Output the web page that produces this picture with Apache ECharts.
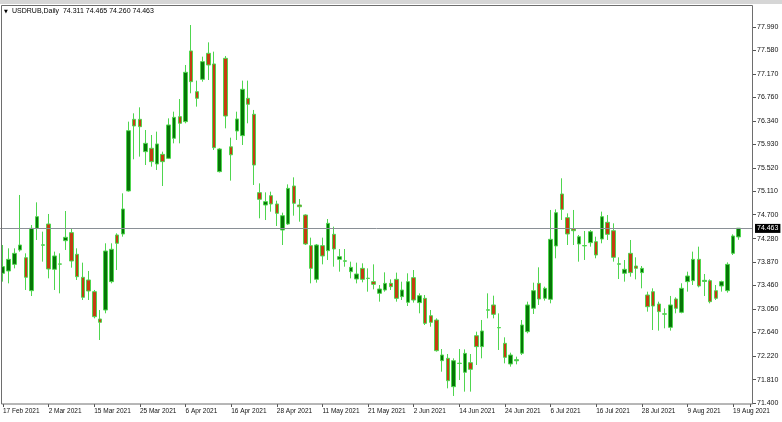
<!DOCTYPE html>
<html><head><meta charset="utf-8">
<script src="https://cdn.jsdelivr.net/npm/echarts@6/dist/echarts.min.js"></script>
<style>html,body{margin:0;padding:0;background:#fff}#c{width:782px;height:422px}</style>
</head><body><div id="c"></div>
<script>
const symbol = 'USDRUB,Daily';
const dates = [
'17 Feb 2021','18 Feb 2021','19 Feb 2021','22 Feb 2021','24 Feb 2021','25 Feb 2021','26 Feb 2021',
'1 Mar 2021','2 Mar 2021','3 Mar 2021','4 Mar 2021','5 Mar 2021','9 Mar 2021','10 Mar 2021','11 Mar 2021','12 Mar 2021','15 Mar 2021','16 Mar 2021','17 Mar 2021','18 Mar 2021','19 Mar 2021','22 Mar 2021','23 Mar 2021','24 Mar 2021','25 Mar 2021','26 Mar 2021','29 Mar 2021','30 Mar 2021','31 Mar 2021',
'1 Apr 2021','2 Apr 2021','5 Apr 2021','6 Apr 2021','7 Apr 2021','8 Apr 2021','9 Apr 2021','12 Apr 2021','13 Apr 2021','14 Apr 2021','15 Apr 2021','16 Apr 2021','19 Apr 2021','20 Apr 2021','21 Apr 2021','22 Apr 2021','23 Apr 2021','26 Apr 2021','27 Apr 2021','28 Apr 2021','29 Apr 2021','30 Apr 2021',
'4 May 2021','5 May 2021','6 May 2021','7 May 2021','10 May 2021','11 May 2021','12 May 2021','13 May 2021','14 May 2021','17 May 2021','18 May 2021','19 May 2021','20 May 2021','21 May 2021','24 May 2021','25 May 2021','26 May 2021','27 May 2021','28 May 2021','31 May 2021',
'1 Jun 2021','2 Jun 2021','3 Jun 2021','4 Jun 2021','7 Jun 2021','8 Jun 2021','9 Jun 2021','10 Jun 2021','11 Jun 2021','14 Jun 2021','15 Jun 2021','16 Jun 2021','17 Jun 2021','18 Jun 2021','21 Jun 2021','22 Jun 2021','23 Jun 2021','24 Jun 2021','25 Jun 2021','28 Jun 2021','29 Jun 2021','30 Jun 2021',
'1 Jul 2021','2 Jul 2021','5 Jul 2021','6 Jul 2021','7 Jul 2021','8 Jul 2021','9 Jul 2021','12 Jul 2021','13 Jul 2021','14 Jul 2021','15 Jul 2021','16 Jul 2021','19 Jul 2021','20 Jul 2021','21 Jul 2021','22 Jul 2021','23 Jul 2021','26 Jul 2021','27 Jul 2021','28 Jul 2021','29 Jul 2021','30 Jul 2021',
'2 Aug 2021','3 Aug 2021','4 Aug 2021','5 Aug 2021','6 Aug 2021','9 Aug 2021','10 Aug 2021','11 Aug 2021','12 Aug 2021','13 Aug 2021','16 Aug 2021','17 Aug 2021','18 Aug 2021','19 Aug 2021','20 Aug 2021'
];
const open = [73.673,73.714,73.830,74.082,73.947,73.369,74.461,74.165,74.537,73.743,73.834,74.245,74.386,74.006,73.603,73.556,73.351,72.872,73.030,73.527,74.345,74.362,75.116,76.372,76.372,75.805,75.864,75.589,75.758,75.688,76.039,76.419,76.331,77.570,76.857,77.073,77.529,77.342,75.455,77.441,75.890,76.167,76.086,76.740,76.460,75.087,74.870,75.034,74.888,74.432,74.537,75.203,74.870,74.695,74.158,73.567,74.158,74.070,74.356,73.918,73.885,73.702,73.573,73.760,73.582,73.527,73.322,73.380,73.497,73.567,73.264,73.164,73.597,73.159,73.234,72.930,72.854,72.142,72.183,71.686,72.092,71.938,72.107,72.580,72.388,73.027,73.118,72.717,72.446,72.084,72.140,72.271,72.650,73.060,73.497,73.235,73.217,74.152,75.063,74.648,74.450,74.187,74.154,74.210,74.228,74.274,74.567,74.420,73.833,73.673,74.023,73.801,73.685,73.293,73.351,73.135,72.957,72.726,73.223,72.989,73.527,73.544,73.918,73.530,73.544,73.369,73.451,73.369,74.023,74.311];
const close = [73.790,73.918,74.023,74.169,73.603,74.461,74.666,74.172,73.749,73.977,73.838,74.304,73.889,73.614,73.252,73.363,72.913,72.814,74.064,74.094,74.199,74.800,76.173,76.255,76.243,75.951,75.630,75.940,75.630,76.273,76.407,76.302,77.196,77.032,76.740,77.383,77.324,75.875,75.852,76.430,75.750,76.378,76.898,76.635,75.571,74.970,74.929,74.888,74.724,74.683,75.162,74.900,74.840,74.187,73.760,74.169,73.977,74.549,74.099,73.965,73.892,73.778,73.661,73.567,73.588,73.480,73.398,73.497,73.439,73.234,73.380,73.527,73.205,73.281,72.796,72.814,72.317,72.241,71.791,72.142,72.098,72.270,71.990,72.388,72.662,73.033,72.954,72.723,72.200,72.241,72.160,72.767,73.118,73.369,73.223,73.410,74.269,74.736,74.794,74.362,74.420,74.315,74.160,74.403,73.994,74.666,74.356,73.953,73.839,73.743,73.685,73.760,73.760,73.088,73.100,73.001,72.963,73.118,73.059,73.410,73.626,73.918,73.451,73.550,73.176,73.235,73.527,73.830,74.327,74.463];
const low = [73.527,73.497,73.760,74.053,73.381,73.275,74.257,73.877,73.585,73.381,73.322,74.082,73.772,73.556,73.205,73.205,72.884,72.504,72.972,73.497,73.731,74.315,75.104,75.671,75.718,75.571,75.542,75.484,75.203,75.677,75.951,75.951,76.302,76.828,76.594,77.032,77.061,75.834,75.440,76.214,75.297,76.010,75.922,76.302,75.221,74.637,74.607,74.753,74.502,74.169,74.520,74.683,74.578,74.169,73.497,73.509,73.830,73.906,73.789,73.702,73.789,73.585,73.497,73.515,73.351,73.392,73.176,73.351,73.380,73.176,73.205,73.100,73.159,72.972,72.767,72.738,72.300,71.949,71.657,71.523,71.803,71.599,71.599,72.066,72.183,72.884,72.884,72.329,72.095,72.037,72.078,72.241,72.621,72.960,73.118,73.194,73.147,73.936,74.608,74.169,74.169,73.877,73.907,74.140,73.936,74.199,74.257,73.877,73.573,73.527,73.614,73.567,73.410,73.001,72.679,72.668,72.709,72.668,72.972,72.972,73.352,73.468,73.427,73.275,73.147,73.206,73.352,73.334,73.994,74.260];
const high = [74.169,74.111,74.111,75.046,74.023,74.520,74.917,74.403,74.713,74.053,74.023,74.765,74.461,74.111,73.860,73.714,73.381,73.030,74.199,74.199,74.374,75.075,76.331,76.477,76.582,76.185,76.097,76.156,75.805,76.389,76.506,76.728,77.324,78.025,77.050,77.470,77.721,77.558,75.870,77.482,76.050,76.506,77.050,77.050,76.536,75.250,75.092,75.104,74.946,74.736,75.232,75.355,74.975,74.707,74.298,74.187,74.298,74.625,74.490,74.099,74.099,73.877,73.860,73.848,73.760,73.830,73.468,73.690,73.567,73.685,73.526,73.673,73.731,73.322,73.293,73.030,72.884,72.346,72.259,72.183,72.346,72.340,72.259,72.650,72.855,73.322,73.281,72.971,72.551,72.282,72.212,72.855,73.176,73.509,73.778,73.439,74.783,74.794,75.338,74.724,74.783,74.345,74.415,74.432,74.315,74.754,74.695,74.549,73.953,73.906,74.257,73.953,73.801,73.351,73.410,73.176,73.059,73.276,73.252,73.498,73.702,74.053,74.140,73.661,73.568,73.468,73.544,73.865,74.356,74.465];
const priceTicks = [71.400,71.810,72.220,72.640,73.050,73.460,73.870,74.280,74.700,75.110,75.520,75.930,76.340,76.760,77.170,77.580,77.990];

const n = dates.length;
const cats = dates.concat(['', '']);
const ohlc = open.map((o, i) => [o, close[i], low[i], high[i]]);
const last = n - 1;
const header = symbol + '  ' + [open[last], high[last], low[last], close[last]].map(v => v.toFixed(3)).join(' ');

const chart = echarts.init(document.getElementById('c'), null, {renderer: 'canvas'});
const FONT = 'Liberation Sans, Arial, sans-serif';
chart.setOption({
  animation: false,
  backgroundColor: '#ffffff',
  grid: {left: 0, right: 29, top: 6, bottom: 18, show: false},
  xAxis: {
    type: 'category', data: cats, boundaryGap: true,
    axisLine: {show: false},
    axisTick: {show: true, interval: 7, alignWithLabel: true, length: 3, lineStyle: {color: '#555'}},
    axisLabel: {interval: 7, align: 'left', margin: 4, fontSize: 6.5, color: '#111', fontFamily: FONT, hideOverlap: false, showMinLabel: true, showMaxLabel: true},
    splitLine: {show: false}
  },
  yAxis: {
    type: 'value', position: 'right', min: 71.3825, max: 78.358, scale: true,
    axisLine: {show: false},
    axisTick: {show: true, customValues: priceTicks, length: 3, lineStyle: {color: '#555'}},
    axisLabel: {customValues: priceTicks, margin: 4, fontSize: 7, color: '#111', fontFamily: FONT,
      formatter: v => Number(v).toFixed(3)},
    splitLine: {show: false}
  },
  graphic: [
    {type: 'rect', silent: true, shape: {x: 0, y: 0, width: 782, height: 4}, style: {fill: '#d6d6d6'}},
    {type: 'rect', silent: true, z: 100, shape: {x: 1.5, y: 5.5, width: 751, height: 398.5}, style: {fill: 'none', stroke: '#6e6e6e', lineWidth: 1}},
    {type: 'text', silent: true, left: 4, top: 9, style: {text: '▼', fontSize: 5, fill: '#000', fontFamily: 'DejaVu Sans'}},
    {type: 'text', silent: true, left: 12, top: 8, style: {text: header, fontSize: 7, fill: '#000', fontFamily: FONT}}
  ],
  series: [{
    type: 'candlestick',
    data: ohlc,
    barWidth: 4,
    itemStyle: {color: '#077507', color0: '#c43c12', borderColor: '#4fd64f', borderColor0: '#4fd64f', borderWidth: 1},
    markLine: {
      silent: true, symbol: ['none', 'none'],
      lineStyle: {color: '#8a9096', width: 1, type: 'solid'},
      label: {show: true, position: 'end', distance: 2, formatter: close[last].toFixed(3), backgroundColor: '#000', color: '#fff', fontSize: 7, fontFamily: FONT, padding: [1, 2, 1, 2]},
      data: [{yAxis: close[last]}]
    }
  }]
});
</script></body></html>
